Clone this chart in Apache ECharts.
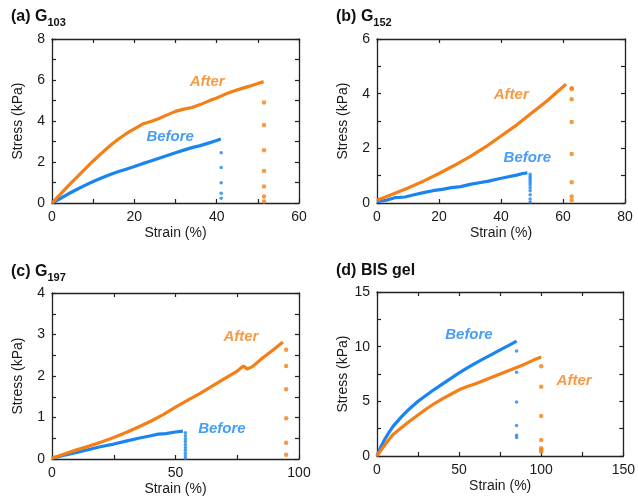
<!DOCTYPE html>
<html><head><meta charset="utf-8">
<script src="https://cdn.jsdelivr.net/npm/echarts@6/dist/echarts.min.js"></script>
<style>html,body{margin:0;padding:0;background:#fff}#c{width:638px;height:500px}</style>
</head><body><div id="c"></div>
<script>
// ---- data (strain %, stress kPa) ----
const aAfter = [[0,0],[2,0.42],[4,0.85],[6,1.25],[8,1.65],[10,2.05],[12,2.42],[14,2.78],[16,3.1],[18,3.38],[20,3.62],[22,3.85],[24,3.98],[26,4.12],[28,4.3],[30,4.47],[32,4.58],[34,4.66],[36,4.8],[38,4.97],[40,5.12],[42,5.3],[44,5.45],[46,5.58],[48,5.7],[50,5.83],[51.4,5.92]];
const aBefore = [[0,0],[2,0.22],[4,0.45],[6,0.66],[8,0.86],[10,1.05],[12,1.22],[14,1.38],[16,1.52],[18,1.65],[20,1.78],[22,1.92],[24,2.05],[26,2.18],[28,2.32],[30,2.45],[32,2.58],[34,2.7],[36,2.8],[38,2.92],[40,3.05],[41,3.12]];
const aBeforeDropX = 41.1, aBeforeDrop = [2.45,1.73,0.99,0.47,0.23];
const aAfterDropX = 51.5, aAfterDrop = [4.9,3.8,2.57,1.56,0.8,0.32,0.07];

const bAfter = [[0,0.1],[5,0.32],[10,0.55],[15,0.8],[20,1.08],[25,1.38],[30,1.7],[35,2.05],[40,2.45],[45,2.85],[50,3.3],[55,3.75],[58,4.05],[61,4.35]];
const bBefore = [[0,0.05],[3,0.1],[6,0.2],[9,0.22],[12,0.3],[15,0.38],[18,0.45],[21,0.5],[24,0.56],[27,0.6],[30,0.68],[33,0.74],[36,0.8],[39,0.88],[42,0.95],[45,1.02],[47,1.08],[48.5,1.1]];
const bBeforeDropX = 49.4, bBeforeDrop = [1.05,0.97,0.9,0.82,0.74,0.66,0.56,0.45,0.3,0.15,0.04];
const bAfterDropX = 62.8, bAfterDrop = [4.2,4.17,3.8,2.96,1.79,0.76,0.24,0.1];

const cAfter = [[0,0.02],[5,0.12],[10,0.22],[15,0.31],[20,0.41],[25,0.52],[30,0.64],[35,0.77],[40,0.91],[45,1.07],[50,1.25],[55,1.42],[60,1.58],[65,1.76],[70,1.94],[75,2.12],[77.5,2.24],[79,2.17],[81,2.22],[85,2.42],[90,2.65],[93.5,2.82]];
const cBefore = [[0,0.02],[5,0.09],[10,0.16],[15,0.23],[20,0.3],[25,0.36],[30,0.43],[35,0.5],[40,0.56],[43,0.6],[46,0.61],[50,0.65],[53,0.67]];
const cBeforeDropX = 54, cBeforeDrop = [0.63,0.56,0.49,0.42,0.35,0.28,0.21,0.14,0.07,0.01];
const cAfterDropX = 94.8, cAfterDrop = [2.63,2.24,1.68,0.98,0.39,0.1];

const dBefore = [[0,0],[2.5,0.9],[5,1.6],[7.5,2.2],[10,2.75],[15,3.6],[20,4.35],[25,5.0],[30,5.55],[35,6.1],[40,6.6],[45,7.1],[50,7.6],[55,8.05],[60,8.5],[65,8.9],[70,9.3],[75,9.7],[80,10.1],[85,10.5]];
const dAfter = [[0,0],[2.5,0.55],[5,1.05],[7.5,1.55],[10,2.0],[15,2.6],[20,3.2],[25,3.75],[30,4.3],[35,4.8],[40,5.25],[45,5.65],[50,6.05],[55,6.35],[60,6.6],[65,6.9],[70,7.2],[75,7.5],[80,7.8],[85,8.1],[90,8.4],[95,8.75],[100,9.05]];
const dBeforeDropX = 85, dBeforeDrop = [9.6,7.65,4.95,2.8,1.9,1.7];
const dAfterDropX = 100, dAfterDrop = [8.2,6.33,3.65,1.46,0.7,0.55,0.4];

const titles = ['(a) G', '(b) G', '(c) G', '(d) BIS gel'];
const subs = ['103', '152', '197', ''];
const xRanges = [[0,60,20,2],[0,80,20,0],[0,100,50,2],[0,150,50,2]];
const yRanges = [[0,8,2,2],[0,6,2,2],[0,4,1,2],[0,15,5,2]];
// annotation label positions (data coords)
const annotations = [
  [['After',37.7,5.9,'o'],['Before',28.7,3.25,'b']],
  [['After',43.3,3.94,'o'],['Before',48.5,1.65,'b']],
  [['After',76.5,2.94,'o'],['Before',68.8,0.72,'b']],
  [['Before',56,11.04,'b'],['After',120,6.9,'o']]
];

const ORANGE = '#f57f17', BLUE = '#1a84ef';
const FONT = '"Liberation Sans", Arial, sans-serif';
const grids = [
  {left:52, top:39, width:247, height:164},
  {left:377, top:39, width:248, height:164},
  {left:52, top:293, width:247, height:166},
  {left:377, top:292, width:248, height:164}
];
const titlePos = [[11,9],[336,9],[11,264],[336,263]];

const panels = [
  {after:aAfter, before:aBefore, ad:[aAfterDropX,aAfterDrop], bd:[aBeforeDropX,aBeforeDrop]},
  {after:bAfter, before:bBefore, ad:[bAfterDropX,bAfterDrop], bd:[bBeforeDropX,bBeforeDrop]},
  {after:cAfter, before:cBefore, ad:[cAfterDropX,cAfterDrop], bd:[cBeforeDropX,cBeforeDrop]},
  {after:dAfter, before:dBefore, ad:[dAfterDropX,dAfterDrop], bd:[dBeforeDropX,dBeforeDrop]}
];

const axisLine = {show:true, onZero:false, lineStyle:{color:'#222', width:1.3}};
function tick(){ return {show:true, inside:true, length:4, lineStyle:{color:'#222', width:1.2}}; }
function minor(n){ return {show:n>0, splitNumber:n||1, length:4, lineStyle:{color:'#222', width:1.2}}; }

const xAxis = [], yAxis = [], series = [], title = [];
panels.forEach((p,i)=>{
  const xr = xRanges[i], yr = yRanges[i];
  const mk = (pos, isX, show) => ({
    type:'value', gridIndex:i, position:pos,
    min: isX?xr[0]:yr[0], max: isX?xr[1]:yr[1], interval: isX?xr[2]:yr[2],
    axisLine, axisTick:tick(), minorTick:minor(isX?xr[3]:yr[3]),
    splitLine:{show:false}, minorSplitLine:{show:false},
    axisLabel:{show:show, color:'#1a1a1a', fontFamily:FONT, fontSize:14, margin:7},
    name: show ? (isX?'Strain (%)':'Stress (kPa)') : '',
    nameLocation:'middle', nameGap: isX?23:27,
    nameTextStyle:{color:'#1a1a1a', fontFamily:FONT, fontSize:14}
  });
  xAxis.push(mk('bottom',true,true), mk('top',true,false));
  yAxis.push(mk('left',false,true), mk('right',false,false));
  const xi = 2*i, yi = 2*i;
  series.push(
    {type:'line', xAxisIndex:xi, yAxisIndex:yi, data:p.before, showSymbol:false, lineStyle:{color:BLUE,width:3.2}, itemStyle:{color:BLUE}, animation:false, z:3},
    {type:'line', xAxisIndex:xi, yAxisIndex:yi, data:p.after, showSymbol:false, lineStyle:{color:ORANGE,width:3.2}, itemStyle:{color:ORANGE}, animation:false, z:3},
    {type:'scatter', xAxisIndex:xi, yAxisIndex:yi, data:p.bd[1].map(v=>[p.bd[0],v]), symbolSize:3.5, itemStyle:{color:BLUE}, animation:false},
    {type:'scatter', xAxisIndex:xi, yAxisIndex:yi, data:p.ad[1].map(v=>[p.ad[0],v]), symbolSize:4.5, itemStyle:{color:ORANGE}, animation:false},
    {type:'scatter', xAxisIndex:xi, yAxisIndex:yi, symbolSize:0, animation:false, silent:true,
     data:annotations[i].map(a=>({name:a[0], value:[a[1],a[2]],
       label:{show:true, position:'inside', formatter:'{b}', color:a[3]==='o'?ORANGE:BLUE,
              fontFamily:FONT, fontSize:15, fontWeight:'bold', fontStyle:'italic'}}))}
  );
  title.push({
    text: subs[i] ? '{m|'+titles[i]+'}{s|'+subs[i]+'}' : '{m|'+titles[i]+'}',
    left: titlePos[i][0], top: titlePos[i][1], padding:0,
    textStyle:{rich:{
      m:{fontFamily:FONT, fontSize:16, fontWeight:'bold', color:'#111', lineHeight:19, verticalAlign:'top'},
      s:{fontFamily:FONT, fontSize:11, fontWeight:'bold', color:'#111', lineHeight:11, verticalAlign:'bottom', padding:[11,0,0,0]}
    }}
  });
});

const chart = echarts.init(document.getElementById('c'), null, {renderer:'canvas'});
chart.setOption({animation:false, backgroundColor:'#fff', title, grid:grids, xAxis, yAxis, series});
</script></body></html>
